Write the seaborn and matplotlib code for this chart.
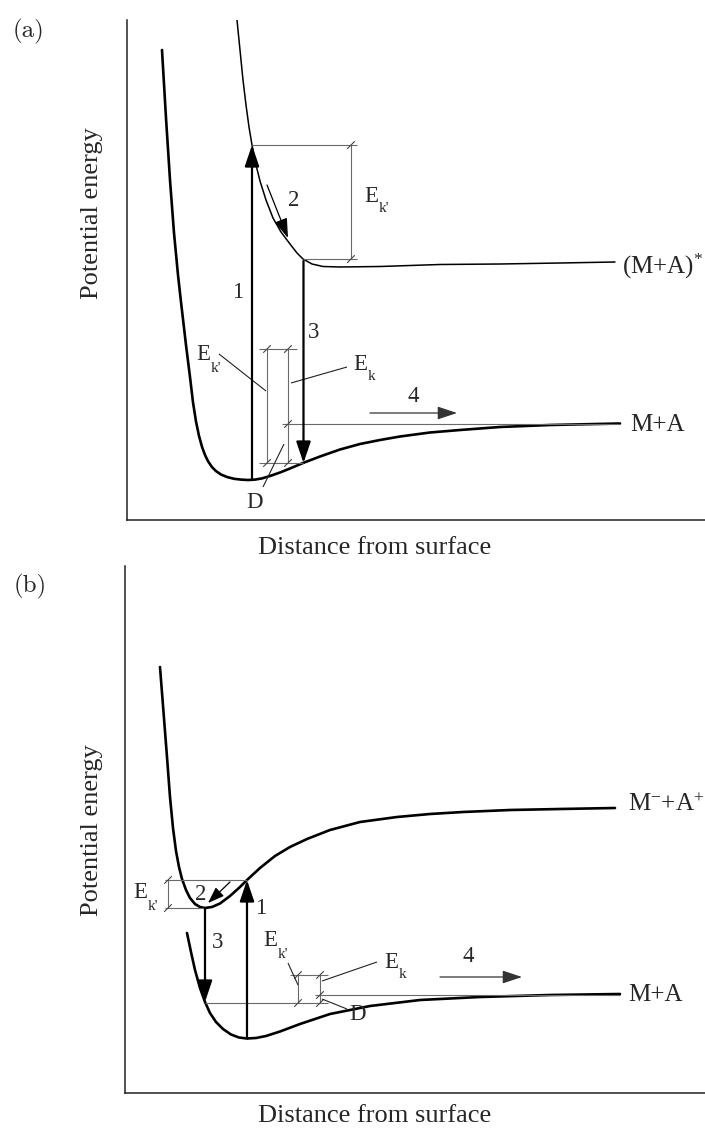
import matplotlib
matplotlib.use("Agg")
import matplotlib.pyplot as plt
import seaborn as sns
import pandas as pd

# ---------------- data (arbitrary units: distance, energy) ----------------
# panel (a)
a_ground_d = [35, 39, 43, 47, 51, 54, 59, 63, 66, 69, 72, 75, 78, 81, 85, 89, 94, 100, 107, 114, 121,
              128, 135, 143, 153, 163, 176, 193, 213, 233, 253, 273, 303, 333, 373, 423, 493]
a_ground_e = [470, 402, 340, 287, 245, 218, 175, 143, 117.6, 98.5, 84.1, 73.2, 65, 58.8, 52.9, 48.9,
              45.5, 43, 41.2, 40.4, 40, 40.4, 41.6, 44, 47.5, 51.5, 57, 63.5, 70.5, 76, 80, 83.5, 87.5,
              90, 93, 95, 96.5]
a_exc_d = [110, 113, 116, 119, 122, 125, 129, 133, 139, 146, 154, 163, 170, 176, 185, 196, 213, 253, 313,
           373, 433, 488]
a_exc_e = [500, 470, 440, 415, 393, 375, 355, 339, 320, 302, 288, 276, 267, 261, 256, 253.5, 253, 253.5,
           255.5, 256, 257, 258]
# panel (b)
b_upper_d = [35, 38.5, 42, 45, 48, 51, 54, 57, 61, 65, 70, 75, 80, 87, 95, 105, 115, 122, 135, 150,
             165, 182, 205, 235, 272, 305, 338, 385, 435, 490]
b_upper_e = [426, 381, 336, 296, 265, 242, 226, 214, 203, 195, 189, 186, 185, 186, 189.5, 197, 206, 213,
             225, 237, 246, 254, 263, 271, 276, 279, 281, 283, 284, 285]
b_lower_d = [62, 66, 70, 75, 80, 85, 91, 98, 106, 114, 122, 131, 141, 155, 175, 205, 245, 295, 355,
             425, 495]
b_lower_e = [160, 141, 123, 105, 91, 80, 71, 64, 58.5, 55.5, 54.5, 55, 57, 61.5, 69, 79, 87, 93, 96,
             98, 99]

curve_labels_a = ["M+A", "(M+A)$^{*}$"]
curve_labels_b = ["M+A", "M$^{-}$+A$^{+}$"]
panel_tags = ["(a)", "(b)"]
xlab = "Distance from surface"
ylab = "Potential energy"

# ---------------- style ----------------
sns.set_theme(style="white")
plt.rcParams["font.family"] = ["Liberation Serif", "DejaVu Serif"]
plt.rcParams["mathtext.fontset"] = "custom"
plt.rcParams["mathtext.rm"] = "Liberation Serif"
plt.rcParams["mathtext.it"] = "Liberation Serif:italic"
plt.rcParams["mathtext.bf"] = "Liberation Serif:bold"

W, H = 705, 1131
fig = plt.figure(figsize=(W / 100, H / 100), dpi=100)

GRAY = "#6a6a6a"
FS = 16.5
FSUB = 11
FCURVE = 18


def make_ax(left, top, bottom):
    ax = fig.add_axes([left / W, 1 - bottom / H, (W - left) / W, (bottom - top) / H])
    ax.set_xlim(0, W - left)
    ax.set_ylim(0, bottom - top)
    for s in ["top", "right"]:
        ax.spines[s].set_visible(False)
    for s in ["left", "bottom"]:
        ax.spines[s].set_color("#222222")
        ax.spines[s].set_linewidth(1.1)
    ax.set_xticks([])
    ax.set_yticks([])
    ax.set_facecolor("none")
    return ax


def curve(ax, d, e, lw):
    df = pd.DataFrame({"d": d, "e": e})
    sns.lineplot(data=df, x="d", y="e", ax=ax, sort=False, estimator=None,
                 color="black", linewidth=lw)
    ax.set_xlabel("")
    ax.set_ylabel("")


def gline(ax, xs, ys, lw=0.8, c=GRAY):
    ax.plot(xs, ys, color=c, lw=lw, solid_capstyle="butt")


def tick(ax, x, y):
    ax.plot([x - 3.5, x + 3.5], [y - 3.5, y + 3.5], color="#444444", lw=0.8)


def arrow(ax, x0, y0, x1, y1, lw=1.6, color="black", hl=0.65, hw=0.22):
    ax.annotate("", xy=(x1, y1), xytext=(x0, y0),
                arrowprops=dict(arrowstyle=f"-|>,head_length={hl},head_width={hw}",
                                lw=lw, color=color, mutation_scale=20,
                                shrinkA=0, shrinkB=0))


def txt(ax, x, y, s, fs=FS, ha="center"):
    ax.text(x, y, s, fontsize=fs, ha=ha, va="center")


def elabel(ax, x, y, sub):
    ax.text(x, y, "E", fontsize=FS, ha="center", va="center")
    ax.text(x + 8, y - 13, sub, fontsize=FSUB, ha="left", va="center")


# ======================= panel (a) =======================
axa = make_ax(127, 20, 520)
curve(axa, a_ground_d, a_ground_e, 1.9)
curve(axa, a_exc_d, a_exc_e, 1.1)

gline(axa, [125, 230], [375, 375])
gline(axa, [176, 230], [261, 261])
gline(axa, [224, 224], [261, 375])
tick(axa, 224, 375)
tick(axa, 224, 261)
elabel(axa, 244, 324, "k'")

gline(axa, [140, 140], [57, 171])
gline(axa, [161, 161], [57, 171])
gline(axa, [132, 170], [171, 171])
gline(axa, [132, 176], [57, 57])
gline(axa, [155, 493], [96, 96])
for (x, y) in [(140, 171), (161, 171), (140, 57), (161, 57), (161, 96)]:
    tick(axa, x, y)
gline(axa, [92, 139], [166, 129], c="#222222")
gline(axa, [164, 220], [137, 153], c="#222222")
gline(axa, [136, 157], [33, 76], c="#222222")
elabel(axa, 76, 165, "k'")
elabel(axa, 233, 156, "k")
txt(axa, 128, 17, "D")

arrow(axa, 125, 40, 125, 375)
arrow(axa, 176.5, 259, 176.5, 57)
arrow(axa, 140, 335, 161, 282, lw=0.9, hl=0.6, hw=0.2)
arrow(axa, 243, 107, 330, 107, lw=0.9, color="#333333", hl=0.6, hw=0.2)
txt(axa, 111, 227, "1")
txt(axa, 167, 320, "2")
txt(axa, 187, 187, "3")
txt(axa, 286, 124, "4")
txt(axa, 503, 95, curve_labels_a[0], fs=FCURVE, ha="left")
txt(axa, 495, 254, curve_labels_a[1], fs=FCURVE, ha="left")

# ======================= panel (b) =======================
axb = make_ax(125, 566, 1093)
curve(axb, b_upper_d, b_upper_e, 1.9)
curve(axb, b_lower_d, b_lower_e, 1.9)

gline(axb, [40, 122], [213, 213])
gline(axb, [40, 80], [185, 185])
gline(axb, [43, 43], [185, 213])
tick(axb, 43, 213)
tick(axb, 43, 185)
elabel(axb, 15, 200, "k'")

gline(axb, [173, 173], [90, 118])
gline(axb, [195, 195], [90, 118])
gline(axb, [165, 203], [118, 118])
gline(axb, [80, 203], [90, 90])
gline(axb, [190, 495], [98, 98])
for (x, y) in [(173, 118), (195, 118), (173, 90), (195, 90), (195, 98)]:
    tick(axb, x, y)
gline(axb, [163, 173], [130, 108], c="#222222")
gline(axb, [197, 252], [112, 131], c="#222222")
gline(axb, [197, 222], [94, 84], c="#222222")
elabel(axb, 145, 152, "k'")
elabel(axb, 266, 131, "k")
txt(axb, 233, 78, "D")

arrow(axb, 122, 54.5, 122, 213)
arrow(axb, 80, 185, 80, 91)
arrow(axb, 105, 211, 83, 190, lw=0.9, hl=0.5, hw=0.18)
arrow(axb, 315, 116, 397, 116, lw=0.9, color="#333333", hl=0.6, hw=0.2)
txt(axb, 76, 199, "2")
txt(axb, 136, 184, "1")
txt(axb, 93, 150, "3")
txt(axb, 343, 136, "4")
txt(axb, 503, 98, curve_labels_b[0], fs=FCURVE, ha="left")
txt(axb, 503, 288, curve_labels_b[1], fs=FCURVE, ha="left")

# ---------------- panel tags and axis titles ----------------
fig.text(29 / W, 1 - 31 / H, panel_tags[0], fontsize=18, family="cmr10", ha="center", va="center")
fig.text(30 / W, 1 - 586 / H, panel_tags[1], fontsize=18, family="cmr10", ha="center", va="center")
fig.text(375 / W, 1 - 548 / H, xlab, fontsize=19, ha="center", va="center")
fig.text(375 / W, 1 - 1116 / H, xlab, fontsize=19, ha="center", va="center")
fig.text(92 / W, 1 - 213 / H, ylab, fontsize=19, ha="center", va="center", rotation=90)
fig.text(92 / W, 1 - 830 / H, ylab, fontsize=19, ha="center", va="center", rotation=90)

fig.savefig("out.png", dpi=100, facecolor="white")
